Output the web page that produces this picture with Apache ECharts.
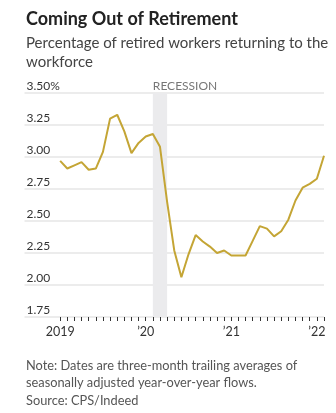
<!DOCTYPE html>
<html>
<head>
<meta charset="utf-8">
<script src="https://cdn.jsdelivr.net/npm/echarts@6/dist/echarts.min.js"></script>
<style>
html,body{margin:0;padding:0;background:#fff;}
#c{width:336px;height:413px;}
</style>
</head>
<body>
<div id="c"></div>
<script>
// Monthly categories (Aug 2018 padding so the axis starts before Jan 2019)
var months = [
  '2018-08','2018-09','2018-10','2018-11','2018-12',
  '2019-01','2019-02','2019-03','2019-04','2019-05','2019-06','2019-07','2019-08','2019-09','2019-10','2019-11','2019-12',
  '2020-01','2020-02','2020-03','2020-04','2020-05','2020-06','2020-07','2020-08','2020-09','2020-10','2020-11','2020-12',
  '2021-01','2021-02','2021-03','2021-04','2021-05','2021-06','2021-07','2021-08','2021-09','2021-10','2021-11','2021-12',
  '2022-01','2022-02'
];
// Percentage of retired workers returning to the workforce
var values = [
  null, null, null, null, null,
  2.97, 2.91, 2.935, 2.96, 2.90, 2.91, 3.04, 3.30, 3.33, 3.20, 3.03, 3.11,
  3.16, 3.18, 3.08, 2.65, 2.27, 2.06, 2.24, 2.39, 2.34, 2.30, 2.25, 2.27,
  2.23, 2.23, 2.23, 2.345, 2.46, 2.44, 2.38, 2.42, 2.51, 2.66, 2.76, 2.79,
  2.83, 3.01
];
var recession = ['2020-02', '2020-04'];
var yTicks = { min: 1.75, max: 3.5, interval: 0.25 };
var yearLabels = { '2019': '2019', '2020': '\u201920', '2021': '\u201921', '2022': '\u201922' };
var firstTickMonth = '2019-01';

var font = 'Lato, "Noto Sans", sans-serif';
var chart = echarts.init(document.getElementById('c'), null, {renderer: 'canvas'});
var firstTickIdx = months.indexOf(firstTickMonth);

chart.setOption({
  animation: false,
  textStyle: { fontFamily: font },
  title: [
    { text: 'Coming Out of Retirement', left: 21, top: 5,
      textStyle: { fontFamily: font, fontSize: 18, fontWeight: 'bold', color: '#222' } },
    { text: 'Percentage of retired workers returning to the\nworkforce', left: 21, top: 29,
      textStyle: { fontFamily: font, fontSize: 15, fontWeight: 'normal', color: '#444', lineHeight: 19 } },
    { text: 'Note: Dates are three-month trailing averages of\nseasonally adjusted year-over-year flows.\nSource: CPS/Indeed', left: 21, top: 352,
      textStyle: { fontFamily: font, fontSize: 12.8, fontWeight: 'normal', color: '#555', lineHeight: 17.5 } }
  ],
  grid: { left: 24.5, right: 12, top: 93, bottom: 96, containLabel: false },
  xAxis: {
    type: 'category',
    data: months,
    boundaryGap: false,
    axisLine: { show: false },
    axisTick: { show: true, length: 4, lineStyle: { color: '#333', width: 1 },
      interval: function (i) { return i >= firstTickIdx; } },
    axisLabel: {
      interval: function (i, v) { return v.slice(5) === '01'; },
      formatter: function (v) { return yearLabels[v.slice(0, 4)]; },
      fontFamily: font, fontSize: 12.5, color: '#333', margin: 8
    },
    splitLine: { show: false }
  },
  yAxis: {
    type: 'value',
    min: yTicks.min, max: yTicks.max, interval: yTicks.interval,
    axisLine: { show: false },
    axisTick: { show: false },
    axisLabel: {
      inside: true, margin: 2, verticalAlign: 'bottom',
      fontFamily: font, fontSize: 12, color: '#333', padding: [0, 0, 1, 0],
      formatter: function (v) { return Math.abs(v - 3.5) < 1e-9 ? '3.50%' : v.toFixed(2); }
    },
    splitLine: { show: true, lineStyle: { color: '#e6e6e6', width: 1.5 } }
  },
  series: [{
    type: 'line',
    data: values,
    showSymbol: false,
    connectNulls: false,
    lineStyle: { color: '#c4a535', width: 2 },
    itemStyle: { color: '#c4a535' },
    markArea: {
      silent: true,
      itemStyle: { color: '#ebebed' },
      label: { show: true, position: [0, -13], color: '#777', fontSize: 12, fontFamily: font },
      data: [[{ name: 'RECESSION', xAxis: recession[0] }, { xAxis: recession[1] }]]
    },
    z: 3
  }]
});
</script>
</body>
</html>
